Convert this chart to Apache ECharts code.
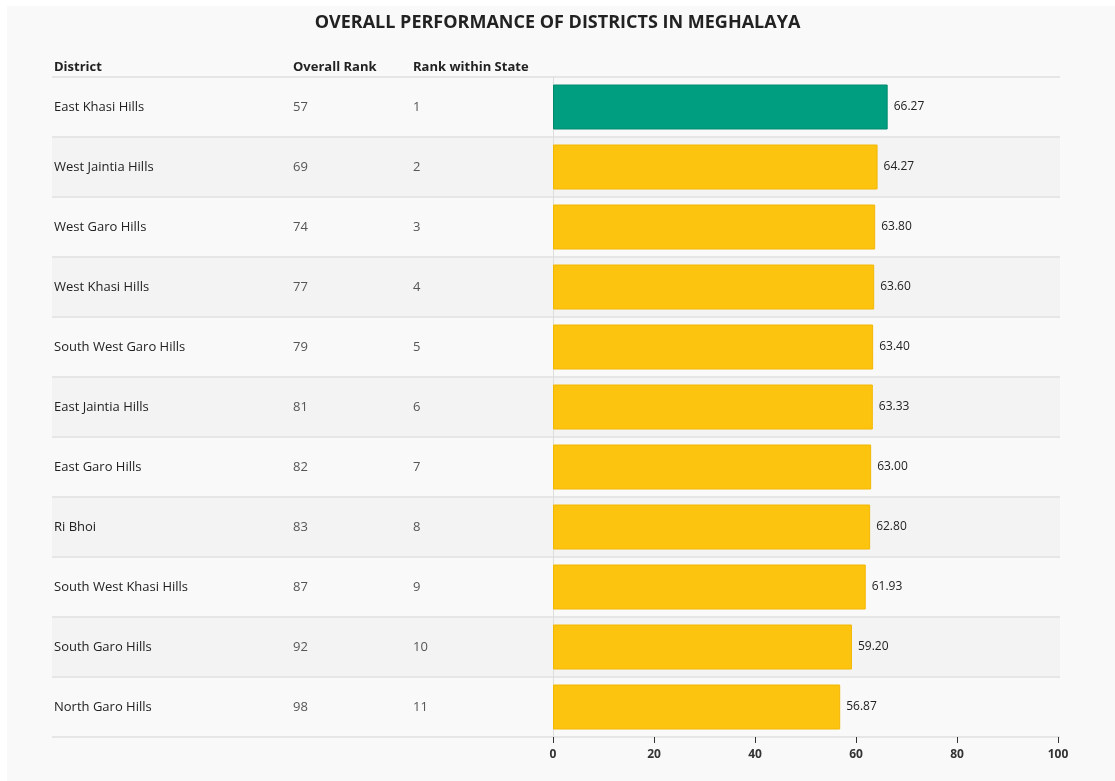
<!DOCTYPE html>
<html>
<head>
<meta charset="utf-8">
<script src="https://cdn.jsdelivr.net/npm/echarts@6/dist/echarts.min.js"></script>
<style>
html,body{margin:0;padding:0;background:#ffffff;}
#chart{width:1115px;height:781px;}
</style>
</head>
<body>
<div id="chart"></div>
<script>
const districts = ["East Khasi Hills","West Jaintia Hills","West Garo Hills","West Khasi Hills","South West Garo Hills","East Jaintia Hills","East Garo Hills","Ri Bhoi","South West Khasi Hills","South Garo Hills","North Garo Hills"];
const overallRank = [57,69,74,77,79,81,82,83,87,92,98];
const stateRank = [1,2,3,4,5,6,7,8,9,10,11];
const scores = [66.27,64.27,63.80,63.60,63.40,63.33,63.00,62.80,61.93,59.20,56.87];
const xTicks = [0,20,40,60,80,100];
const headers = ["District","Overall Rank","Rank within State"];

const FONT = '"Open Sans", Lato, sans-serif';
const chart = echarts.init(document.getElementById('chart'));

const rowLabels = districts.map((d,i)=> d + '|' + overallRank[i] + '|' + stateRank[i]);

chart.setOption({
  backgroundColor: '#f9f9f9',
  animation: false,
  title: {
    text: 'OVERALL PERFORMANCE OF DISTRICTS IN MEGHALAYA',
    left: 'center',
    top: 9,
    textStyle: {fontFamily: FONT, fontWeight: 'bold', fontSize: 18, color: '#222'}
  },
  graphic: [
    {type:'rect', left:0, top:0, shape:{width:1115, height:6}, style:{fill:'#ffffff'}, silent:true},
    {type:'rect', left:0, top:0, shape:{width:7, height:781}, style:{fill:'#ffffff'}, silent:true},
    {type:'text', left:54, top:61, style:{text:headers[0], font:'bold 13px ' + FONT, fill:'#222'}},
    {type:'text', left:293, top:61, style:{text:headers[1], font:'bold 13px ' + FONT, fill:'#222'}},
    {type:'text', left:413, top:61, style:{text:headers[2], font:'bold 13px ' + FONT, fill:'#222'}}
  ],
  grid: [
    {left:52, right:55, top:77, bottom:44},
    {left:553, right:57, top:77, bottom:44}
  ],
  xAxis: [
    {gridIndex:0, type:'value', min:0, max:1, show:false},
    {gridIndex:1, type:'value', min:0, max:100, interval:20,
     axisLine:{show:false},
     axisTick:{show:true, length:6, lineStyle:{color:'#333', width:1}},
     axisLabel:{fontFamily:FONT, fontWeight:'bold', fontSize:12, color:'#333', margin:12},
     splitLine:{show:false}}
  ],
  yAxis: [
    {gridIndex:0, type:'category', data: rowLabels, inverse:true,
     axisLine:{show:false}, axisTick:{show:false},
     splitLine:{show:true, lineStyle:{color:'#e6e6e6', width:2}},
     splitArea:{show:true, areaStyle:{color:['#f9f9f9','#f3f3f3']}},
     axisLabel:{inside:true, margin:2,
       formatter: function(v){ const p=v.split('|'); return '{a|'+p[0]+'}{b|'+p[1]+'}{c|'+p[2]+'}'; },
       rich:{
         a:{width:239, fontFamily:FONT, fontSize:13, color:'#222'},
         b:{width:120, fontFamily:FONT, fontSize:13, color:'#555'},
         c:{width:100, fontFamily:FONT, fontSize:13, color:'#555'}
       }}
    },
    {gridIndex:1, type:'category', data: districts, inverse:true,
     axisLine:{show:true, lineStyle:{color:'#dddddd', width:1}},
     axisTick:{show:false}, axisLabel:{show:false}, splitLine:{show:false}}
  ],
  series: [{
    type:'bar', xAxisIndex:1, yAxisIndex:1,
    data: scores.map((v,i)=>({value:v, itemStyle: i===0 ? {color:'#009e80', borderColor:'#008a6e', borderWidth:1} : {color:'#fdc40f', borderColor:'#f2b705', borderWidth:1}})),
    barWidth:45,
    label:{show:true, position:'right', distance:6, fontFamily:FONT, fontSize:12, color:'#222',
      formatter: p => p.value.toFixed(2)}
  }]
});
</script>
</body>
</html>
